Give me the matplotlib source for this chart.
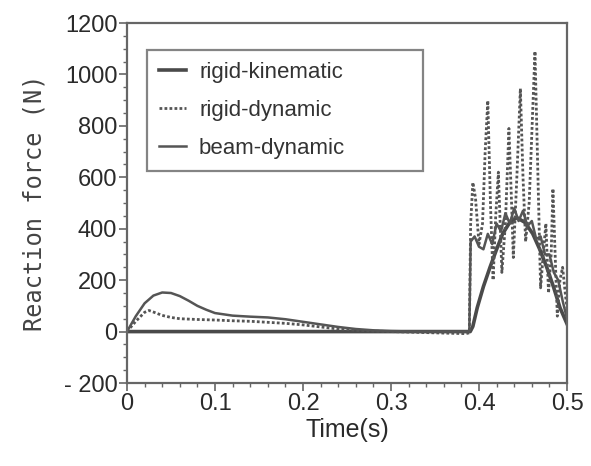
import matplotlib
matplotlib.use("Agg")
import matplotlib.pyplot as plt
from matplotlib.ticker import MultipleLocator

# rigid-kinematic: zero until impact, then smooth hump
t_kin = [0, 0.39, 0.393, 0.398, 0.405, 0.4125, 0.42, 0.427, 0.435, 0.443,
         0.452, 0.461, 0.469, 0.477, 0.485, 0.492, 0.5]
f_kin = [0, 0, 20, 93, 175, 250, 320, 381, 425, 443,
         425, 381, 320, 250, 170, 93, 30]

# rigid-dynamic: small early hump, large spikes after impact
t_rd = [0, 0.01, 0.02, 0.025, 0.03, 0.04, 0.05, 0.06, 0.08, 0.1, 0.12, 0.14,
        0.16, 0.18, 0.2, 0.22, 0.24, 0.26, 0.28, 0.3, 0.35, 0.385, 0.389,
        0.3905, 0.393, 0.396, 0.4, 0.404, 0.407, 0.41, 0.413, 0.416, 0.419,
        0.422, 0.426, 0.43, 0.434, 0.437, 0.439, 0.443, 0.447, 0.45, 0.453,
        0.457, 0.4636, 0.467, 0.47, 0.473, 0.476, 0.479, 0.482, 0.484, 0.487,
        0.489, 0.492, 0.495, 0.498, 0.5]
f_rd = [0, 40, 75, 82, 76, 63, 55, 50, 47, 45, 42, 40,
        36, 32, 26, 18, 10, 5, 2, 0, -5, -8, -5,
        420, 580, 520, 340, 420, 700, 898, 500, 200, 450,
        620, 230, 420, 790, 500, 288, 600, 945, 600, 350,
        500, 1090, 600, 170, 300, 420, 150, 300, 556, 250,
        60, 200, 250, 150, 90]

# beam-dynamic: larger early hump, moderate oscillation after impact
t_bd = [0, 0.01, 0.02, 0.03, 0.04, 0.05, 0.06, 0.07, 0.08, 0.09, 0.1, 0.12,
        0.14, 0.16, 0.18, 0.2, 0.22, 0.24, 0.26, 0.28, 0.3, 0.33, 0.36, 0.389,
        0.3905, 0.395, 0.4, 0.405, 0.41, 0.415, 0.42, 0.425, 0.43, 0.435,
        0.44, 0.445, 0.45, 0.455, 0.46, 0.465, 0.47, 0.475, 0.48, 0.485,
        0.49, 0.495, 0.5]
f_bd = [0, 60, 110, 140, 152, 150, 138, 120, 100, 85, 72, 62,
        58, 55, 48, 38, 28, 18, 10, 5, 2, 0, 0, 0,
        350, 370, 330, 320, 380, 340, 420, 390, 460, 420,
        480, 430, 470, 410, 430, 360, 370, 300, 300, 230,
        200, 120, 50]

fig = plt.figure(figsize=(5.91, 4.66), dpi=100)
ax = fig.add_axes([0.2149, 0.1781, 0.7445, 0.7725])

ax.plot(t_kin, f_kin, color="#4a4a4a", lw=2.6, label="rigid-kinematic")
ax.plot(t_rd, f_rd, color="#555555", lw=2.0, linestyle=(0, (1, 0.8)), label="rigid-dynamic")
ax.plot(t_bd, f_bd, color="#555555", lw=1.8, label="beam-dynamic")

ax.set_xlim(0, 0.5)
ax.set_ylim(-200, 1200)
ax.xaxis.set_minor_locator(MultipleLocator(0.02))
ax.yaxis.set_minor_locator(MultipleLocator(50))
ax.set_xticks([0, 0.1, 0.2, 0.3, 0.4, 0.5])
ax.set_xticklabels(["0", "0.1", "0.2", "0.3", "0.4", "0.5"])
ax.set_yticks([-200, 0, 200, 400, 600, 800, 1000, 1200])
ax.set_yticklabels(["- 200", "0", "200", "400", "600", "800", "1000", "1200"])

for lbl in ax.get_xticklabels() + ax.get_yticklabels():
    lbl.set_fontfamily("Liberation Sans")
    lbl.set_fontsize(17)
    lbl.set_color("#2a2a2a")

ax.tick_params(which="major", direction="out", length=6, width=1.2, color="#666666", pad=1)
ax.tick_params(which="minor", direction="out", length=3, width=1.0, color="#666666")
for s in ax.spines.values():
    s.set_color("#666666")
    s.set_linewidth(1.6)

ax.set_xlabel("Time(s)", fontsize=18, family="Liberation Sans", color="#2a2a2a", labelpad=2)
ax.set_ylabel("Reaction force (N)", fontsize=17, family="DejaVu Sans Mono", color="#444444", labelpad=12)

leg = ax.legend(loc="upper left", bbox_to_anchor=(0.045, 0.586, 0.627, 0.339), mode="expand",
                borderaxespad=0, frameon=True, fancybox=False, edgecolor="#666666",
                handlelength=1.2, labelspacing=0.75, borderpad=0.55, handletextpad=0.6,
                prop={"family": "Liberation Sans", "size": 16})
leg.get_frame().set_linewidth(1.6)
for txt in leg.get_texts():
    txt.set_color("#333333")

fig.savefig("out.png", dpi=100)
